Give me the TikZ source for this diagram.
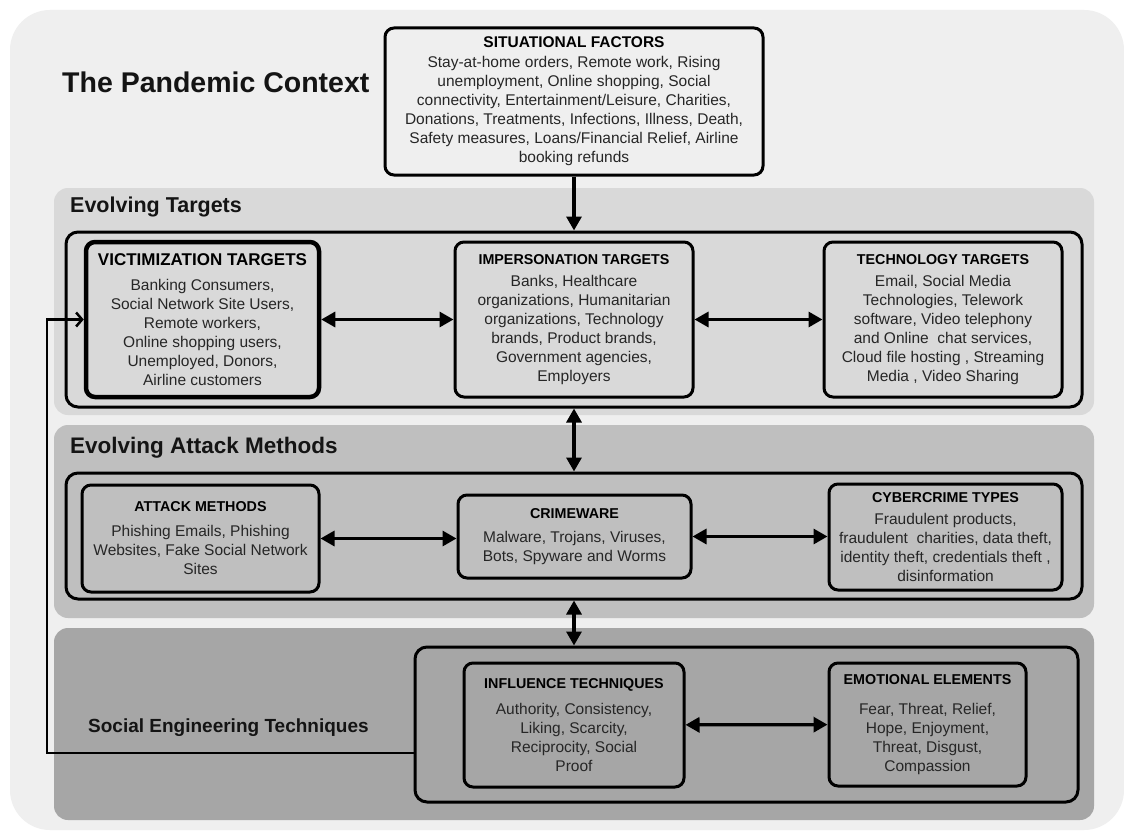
\documentclass[tikz,border=0pt]{standalone}
\usepackage{fontspec}
\setmainfont{Liberation Sans}
\usetikzlibrary{positioning, arrows.meta}
\definecolor{pageGray}{HTML}{EFEFEF}
\definecolor{targetsGray}{HTML}{D9D9D9}
\definecolor{attackGray}{HTML}{BFBFBF}
\definecolor{socialGray}{HTML}{A6A6A6}
\definecolor{inkGray}{HTML}{262626}
\newcommand{\bodysize}{\fontsize{15.5}{19}\selectfont}
\newcommand{\boxhead}[1]{{\fontsize{14.3}{19}\selectfont\bfseries\color{black}#1}}
\tikzset{%
  >={Triangle[length=14pt,width=15pt]},
  % Specifications for style of nodes:
         band/.style = {rectangle, rounded corners=14pt, fill=#1, draw=none,
                        inner sep=0pt},
        frame/.style = {rectangle, rounded corners=12pt, draw=black,
                        line width=3pt, inner sep=0pt},
      infobox/.style = {rectangle, rounded corners=9pt, draw=black,
                        line width=3pt, inner sep=2pt, align=center,
                        text=inkGray, font=\bodysize},
    bandtitle/.style = {anchor=base west, inner sep=0pt, text=black!92},
         link/.style = {<->, line width=3.2pt},
     feedback/.style = {-{Straight Barb[length=6pt,width=14pt]}, line width=2.5pt},
}

\begin{document}
\begin{tikzpicture}[x=1pt, y=-1pt]
  \useasboundingbox (0,0) rectangle (1124,832);
  \fill[white] (0,0) rectangle (1124,832);
  % Backgrounds (whole figure and the three bands)
  \node (pandemicBack) [band=pageGray, rounded corners=40pt,
        minimum width=1114pt, minimum height=820pt] at (567,420) {};
  \node (targetsBand)  [band=targetsGray, minimum width=1040pt,
        minimum height=227pt] at (574,301.5) {};
  \node (attackBand)   [band=attackGray, minimum width=1040pt,
        minimum height=193pt] at (574,521.5) {};
  \node (socialBand)   [band=socialGray, minimum width=1040pt,
        minimum height=192pt] at (574,724) {};
  % Titles
  \node (pandemicTitle) [bandtitle, font=\fontsize{28.5}{34}\selectfont\bfseries]
        at (62,93) {The Pandemic Context};
  \node (targetsTitle)  [bandtitle, font=\fontsize{21.5}{26}\selectfont\bfseries]
        at (70,212) {Evolving Targets};
  \node (attackTitle)   [bandtitle, font=\fontsize{22.5}{27}\selectfont\bfseries]
        at (70,453) {Evolving Attack Methods};
  \node (socialTitle)   [bandtitle, font=\fontsize{19}{23}\selectfont\bfseries]
        at (88,732) {Social Engineering Techniques};
  % Frames round each group of boxes
  \node (targetsFrame) [frame, minimum width=1016pt, minimum height=175pt]
        at (574,319.5) {};
  \node (attackFrame)  [frame, minimum width=1016pt, minimum height=126pt]
        at (574,536) {};
  \node (socialFrame)  [frame, minimum width=663pt, minimum height=155pt]
        at (746.5,724.5) {};
  % Boxes
  \node (situationalFactors) [infobox, fill=pageGray, minimum width=378pt,
        minimum height=147pt] at (574,101.5)
        {{\fontsize{15.5}{19}\selectfont\bfseries\color{black}SITUATIONAL FACTORS}\\[1pt]
         Stay-at-home orders, Remote work, Rising\\
         unemployment, Online shopping, Social\\
         connectivity, Entertainment/Leisure, Charities,\\
         Donations, Treatments, Infections, Illness, Death,\\
         Safety measures, Loans/Financial Relief, Airline\\
         booking refunds};
  \node (victimTargets) [infobox, fill=targetsGray, line width=4.5pt,
        minimum width=233pt, minimum height=155pt] at (202.5,319.5)
        {{\fontsize{17}{19}\selectfont\bfseries\color{black}VICTIMIZATION TARGETS}\\[6pt]
         Banking Consumers,\\ Social Network Site Users,\\ Remote workers,\\
         Online shopping users,\\ Unemployed, Donors,\\ Airline customers};
  \node (impersonTargets) [infobox, fill=targetsGray, minimum width=238pt,
        minimum height=155pt] at (574,319.5)
        {\boxhead{IMPERSONATION TARGETS}\\[3pt]
         Banks, Healthcare\\ organizations, Humanitarian\\
         organizations, Technology\\ brands, Product brands,\\
         Government agencies,\\ Employers};
  \node (techTargets) [infobox, fill=targetsGray, minimum width=238pt,
        minimum height=155pt] at (943,319.5)
        {\boxhead{TECHNOLOGY TARGETS}\\[3pt]
         Email, Social Media\\ Technologies, Telework\\
         software, Video telephony\\ and Online\ \ chat services,\\
         Cloud file hosting , Streaming\\ Media , Video Sharing};
  \node (attackMethods) [infobox, fill=attackGray, minimum width=237pt,
        minimum height=107pt] at (200.5,538.5)
        {\boxhead{ATTACK METHODS}\\[6pt]
         Phishing Emails, Phishing\\ Websites, Fake Social Network\\ Sites};
  \node (crimeWare) [infobox, fill=attackGray, minimum width=233pt,
        minimum height=83pt] at (574.5,536.5)
        {\boxhead{CRIMEWARE}\\[5pt]
         Malware, Trojans, Viruses,\\ Bots, Spyware and Worms};
  \node (cybercrimeTypes) [infobox, fill=attackGray, minimum width=233pt,
        minimum height=106pt] at (945.5,537)
        {\boxhead{CYBERCRIME TYPES}\\[3pt]
         Fraudulent products,\\ fraudulent\ \ charities, data theft,\\
         identity theft, credentials theft ,\\ disinformation};
  \node (influenceTech) [infobox, fill=socialGray, minimum width=220pt,
        minimum height=124pt] at (574,725)
        {\boxhead{INFLUENCE TECHNIQUES}\\[7pt]
         Authority, Consistency,\\ Liking, Scarcity,\\
         Reciprocity, Social\\ Proof};
  \node (emotionalElements) [infobox, fill=socialGray, minimum width=197pt,
        minimum height=123pt] at (927.5,724.5)
        {\boxhead{EMOTIONAL ELEMENTS}\\[11pt]
         Fear, Threat, Relief,\\ Hope, Enjoyment,\\
         Threat, Disgust,\\ Compassion};
  \coordinate (loopBottom) at (47,753);
  % Connectors
  \draw[->, line width=3.2pt] (situationalFactors.south)
        -- (situationalFactors.south |- targetsFrame.north);
  \draw[link] (victimTargets) -- (impersonTargets);
  \draw[link] (impersonTargets) -- (techTargets);
  \draw[link] (targetsFrame.south) -- (targetsFrame.south |- attackFrame.north);
  \draw[link] (attackMethods.east) -- (attackMethods.east -| crimeWare.west);
  \draw[link] (crimeWare.east) -- (crimeWare.east -| cybercrimeTypes.west);
  \draw[link] (attackFrame.south) -- (attackFrame.south |- socialFrame.north);
  \draw[link] (influenceTech) -- (emotionalElements);
  \draw[feedback] (socialFrame.west |- loopBottom) -- (loopBottom)
        |- (victimTargets.west);
\end{tikzpicture}
\end{document}
